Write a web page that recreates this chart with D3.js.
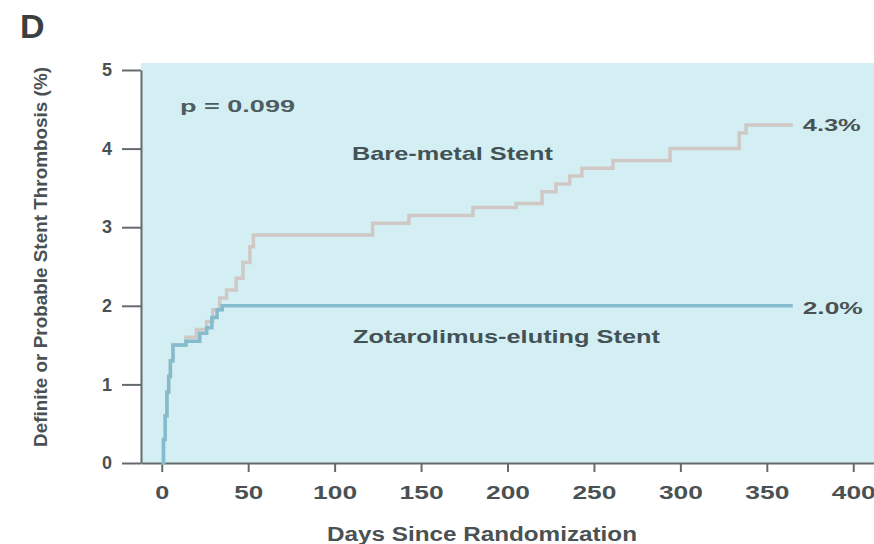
<!DOCTYPE html>
<html>
<head>
<meta charset="utf-8">
<script src="https://cdn.jsdelivr.net/npm/d3@7"></script>
<style>
  html, body { margin: 0; padding: 0; background: #ffffff; }
  svg { display: block; font-family: "Liberation Sans", Arial, sans-serif; }
</style>
</head>
<body>
<svg id="chart" width="874" height="544"></svg>
<script>
// Cumulative definite or probable stent thrombosis (%) by days since randomization
const bmsDays  = [0, 1, 2, 3, 4, 5, 6.5, 14, 20, 26, 29.5, 33.5, 37.5, 43, 47, 51, 53, 122, 143, 180, 205, 220, 228, 236, 243, 261, 294, 334, 338, 365];
const bmsRates = [0, 0.3, 0.6, 0.9, 1.1, 1.3, 1.5, 1.6, 1.7, 1.8, 1.95, 2.1, 2.2, 2.35, 2.55, 2.75, 2.9, 3.05, 3.15, 3.25, 3.3, 3.45, 3.55, 3.65, 3.75, 3.85, 4.0, 4.2, 4.3, 4.3];

const zesDays  = [0, 1, 2, 3, 4, 5, 6.5, 14, 22, 26, 29, 32, 35, 365];
const zesRates = [0, 0.3, 0.6, 0.9, 1.1, 1.3, 1.5, 1.55, 1.65, 1.72, 1.85, 1.95, 2.0, 2.0];

const xTicks = [0, 50, 100, 150, 200, 250, 300, 350, 400];
const yTicks = [0, 1, 2, 3, 4, 5];

const seriesNames = ["Bare-metal Stent", "Zotarolimus-eluting Stent"];
const pValueText = "p = 0.099";

const svg = d3.select("#chart");

const x = d3.scaleLinear().domain([-12, 412]).range([141, 874]);
const y = d3.scaleLinear().domain([0, 5]).range([463, 70]);

const ink = "#4a5153";

// plot panel
svg.append("rect")
  .attr("x", x.range()[0]).attr("y", 63)
  .attr("width", x.range()[1] - x.range()[0])
  .attr("height", y(0) - 63)
  .attr("fill", "#d4eff3");

// axes
const yAxis = d3.axisLeft(y).tickValues(yTicks).tickFormat(d3.format("d"))
  .tickSize(19).tickSizeOuter(0).tickPadding(10);
const gy = svg.append("g").attr("transform", `translate(${x.range()[0]},0)`).call(yAxis);
gy.selectAll("path, line").attr("stroke", "#646b6c").attr("stroke-width", 2);
gy.selectAll("text").attr("fill", ink).attr("font-size", 18).attr("font-weight", "bold");

const xAxis = d3.axisBottom(x).tickValues(xTicks).tickFormat(d3.format("d"))
  .tickSize(9).tickSizeOuter(0).tickPadding(14);
const gx = svg.append("g").attr("transform", `translate(0,${y(0)})`).call(xAxis);
gx.selectAll("path, line").attr("stroke", "#646b6c").attr("stroke-width", 2);
gx.selectAll("text").attr("fill", ink).attr("font-size", 18).attr("font-weight", "bold")
  .attr("textLength", d => 15 * String(d).length - 1).attr("lengthAdjust", "spacingAndGlyphs");

// step curves
const step = d3.line().curve(d3.curveStepAfter).x(d => x(d[0])).y(d => y(d[1]));
const bms = bmsDays.map((d, i) => [d, bmsRates[i]]);
const zes = zesDays.map((d, i) => [d, zesRates[i]]);

svg.append("path").datum(bms)
  .attr("d", step).attr("fill", "none")
  .attr("stroke", "#cfc8c4").attr("stroke-width", 3.5);
svg.append("path").datum(zes)
  .attr("d", step).attr("fill", "none")
  .attr("stroke", "#84bccd").attr("stroke-width", 3.5);

// end-of-follow-up values
const fmtPct = v => v.toFixed(1) + "%";
const bmsLast = bms[bms.length - 1], zesLast = zes[zes.length - 1];
svg.append("text").attr("x", x(bmsLast[0]) + 10).attr("y", y(bmsLast[1]) + 6)
  .attr("font-size", 17).attr("font-weight", "bold").attr("fill", ink)
  .attr("textLength", 58).attr("lengthAdjust", "spacingAndGlyphs")
  .text(fmtPct(bmsLast[1]));
svg.append("text").attr("x", x(zesLast[0]) + 10).attr("y", y(zesLast[1]) + 8)
  .attr("font-size", 17).attr("font-weight", "bold").attr("fill", ink)
  .attr("textLength", 60).attr("lengthAdjust", "spacingAndGlyphs")
  .text(fmtPct(zesLast[1]));

// series labels and p value
svg.append("text").attr("x", 352).attr("y", 160)
  .attr("font-size", 19).attr("font-weight", "bold").attr("fill", "#435255")
  .attr("textLength", 201).attr("lengthAdjust", "spacingAndGlyphs")
  .text(seriesNames[0]);
svg.append("text").attr("x", 353).attr("y", 343)
  .attr("font-size", 19).attr("font-weight", "bold").attr("fill", "#435255")
  .attr("textLength", 307).attr("lengthAdjust", "spacingAndGlyphs")
  .text(seriesNames[1]);
svg.append("text").attr("x", 180).attr("y", 112)
  .attr("font-size", 17).attr("font-weight", "bold").attr("fill", "#4e5d60")
  .attr("textLength", 115).attr("lengthAdjust", "spacingAndGlyphs")
  .text(pValueText);

// axis titles
svg.append("text").attr("x", 327).attr("y", 541)
  .attr("font-size", 20).attr("font-weight", "bold").attr("fill", ink)
  .attr("textLength", 310).attr("lengthAdjust", "spacingAndGlyphs")
  .text("Days Since Randomization");
svg.append("text")
  .attr("transform", "translate(47,257) rotate(-90)")
  .attr("text-anchor", "middle")
  .attr("font-size", 18).attr("font-weight", "bold").attr("fill", ink)
  .attr("textLength", 380).attr("lengthAdjust", "spacingAndGlyphs")
  .text("Definite or Probable Stent Thrombosis (%)");

// panel letter
svg.append("text").attr("x", 20).attr("y", 38)
  .attr("font-size", 34).attr("font-weight", "bold").attr("fill", "#3a3f40")
  .text("D");
</script>
</body>
</html>
